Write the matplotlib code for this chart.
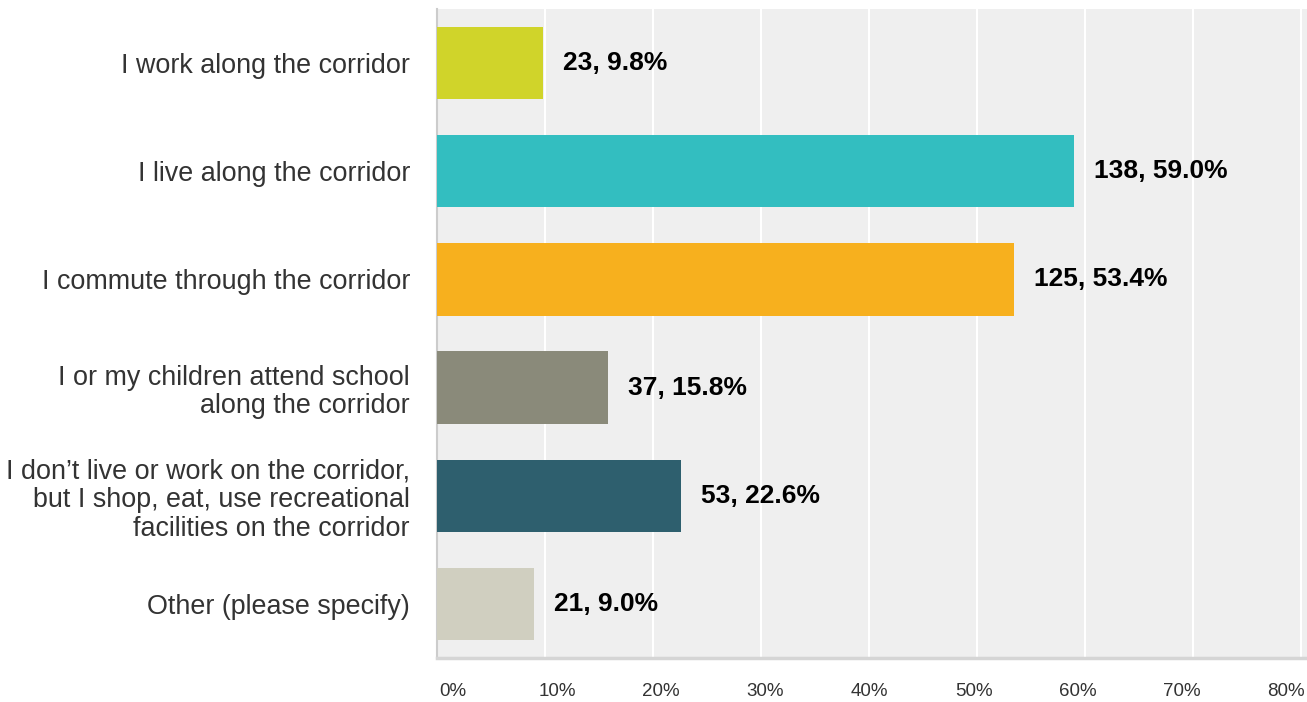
import matplotlib.pyplot as plt
from matplotlib.transforms import ScaledTranslation

categories = [
    "I work along the corridor",
    "I live along the corridor",
    "I commute through the corridor",
    "I or my children attend school\nalong the corridor",
    "I don\u2019t live or work on the corridor,\nbut I shop, eat, use recreational\nfacilities on the corridor",
    "Other (please specify)",
]
counts = [23, 138, 125, 37, 53, 21]
percents = [9.8, 59.0, 53.4, 15.8, 22.6, 9.0]
colors = ["#D0D42A", "#33BEC0", "#F7B01E", "#8A8A7A", "#2E5F6E", "#D0CFC0"]
xticks = [0, 10, 20, 30, 40, 50, 60, 70, 80]

plt.rcParams['font.family'] = ['Liberation Sans', 'DejaVu Sans']

fig = plt.figure(figsize=(13.07, 7.02), dpi=100)
ax = fig.add_axes([437 / 1307, 1 - 658 / 702, 870 / 1307, 649 / 702])
ax.set_facecolor("#EFEFEF")

y = list(range(len(categories)))
ax.barh(y, percents, height=0.67, color=colors, zorder=3)

for yi, c, p in zip(y, counts, percents):
    ax.text(p + 1.85, yi, f"{c}, {p:.1f}%", va="center", ha="left",
            fontsize=19, fontweight="bold", color="black", zorder=4)

ax.set_ylim(len(categories) - 0.5, -0.5)
ax.set_xlim(0, 80 * 870 / 864)
ax.set_yticks(y)
ax.set_yticklabels(categories, fontsize=19.4, color="#333333", linespacing=1.13)
ax.set_xticks(xticks)
ax.set_xticklabels([f"{t}%" for t in xticks], fontsize=13.5, color="#333333")
ax.tick_params(axis="y", length=0, pad=19.5)
ax.tick_params(axis="x", length=0, pad=18)

# tick labels sit on a slightly narrower span than the gridlines
n = len(xticks) - 1
for i, lbl in enumerate(ax.get_xticklabels()):
    dx = (16 - 31 * i / n) / 100
    lbl.set_transform(lbl.get_transform() + ScaledTranslation(dx, 0, fig.dpi_scale_trans))

ax.grid(axis="x", color="white", linewidth=1.5, zorder=1)
for s in ["top", "right"]:
    ax.spines[s].set_visible(False)
ax.spines["left"].set_color("#CCCCCC")
ax.spines["left"].set_linewidth(1.5)
ax.spines["bottom"].set_color("#D5D5D5")
ax.spines["bottom"].set_linewidth(2.5)

fig.savefig("out.png", dpi=100)
